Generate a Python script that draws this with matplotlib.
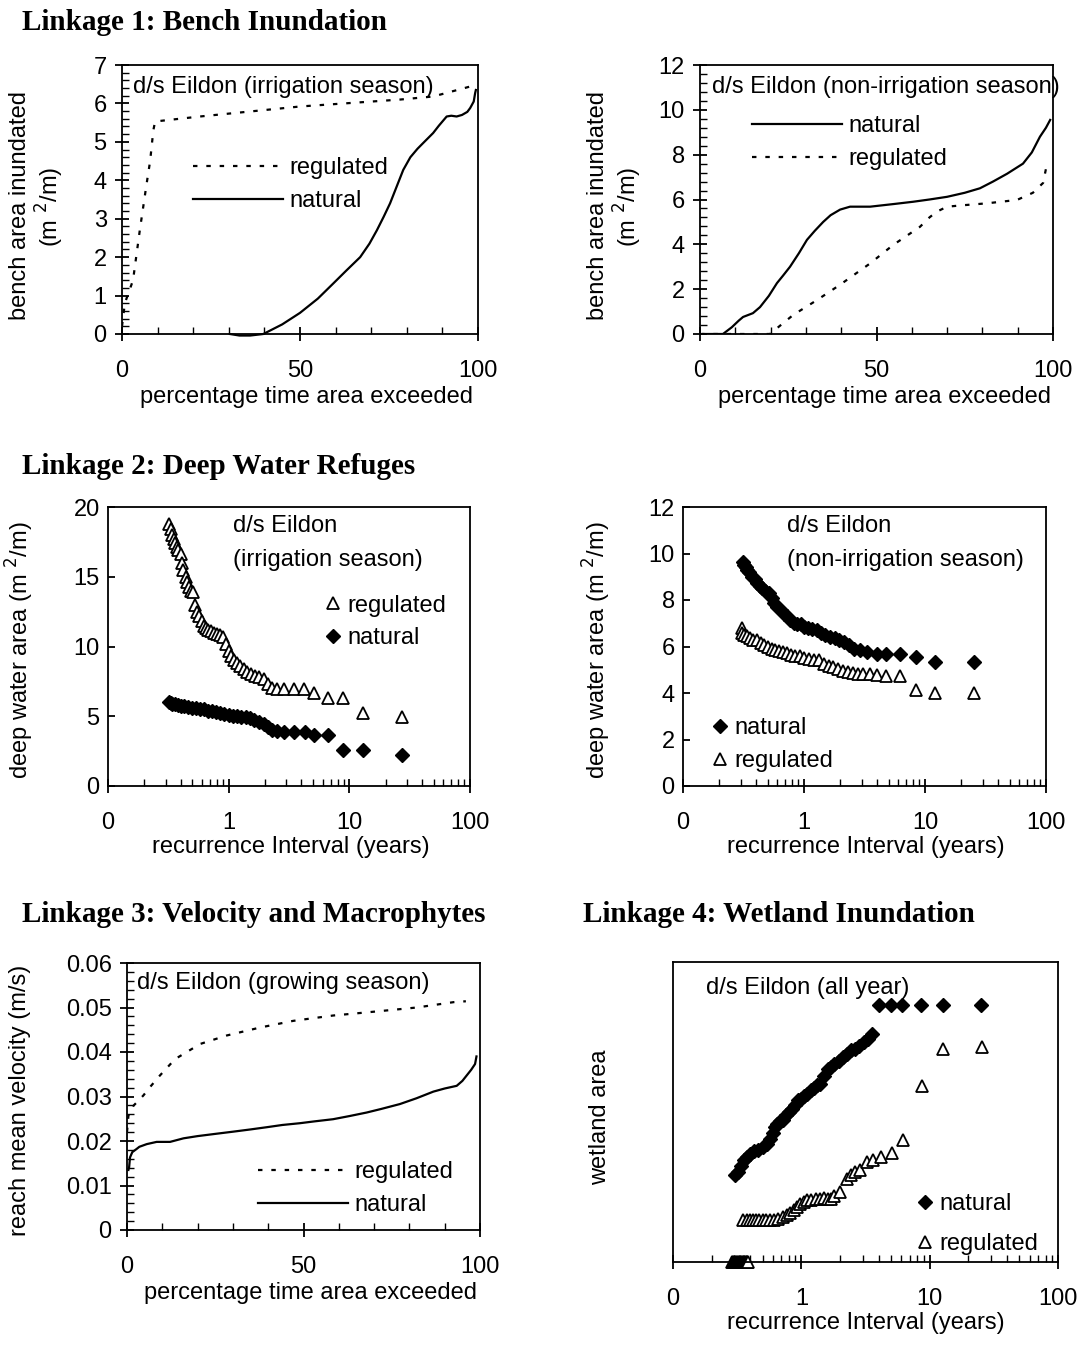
import matplotlib
matplotlib.use("Agg")
import matplotlib.pyplot as plt
from matplotlib.ticker import MultipleLocator, AutoMinorLocator, FixedLocator, FixedFormatter, LogLocator, NullFormatter, FuncFormatter

plt.rcParams['font.family'] = ['Liberation Sans', 'DejaVu Sans']

W, H = 1080, 1347
FS = 17

# *********************
# DATA
# *********************
# Linkage 1 - bench inundation, irrigation season (x = % time exceeded, y = m2/m)
l1_reg_x = [0, 0.8, 3.1, 5.0, 6.9, 7.9, 8.8, 9.3, 21.9, 50, 78, 87.4, 97.8, 99.2]
l1_reg_y = [0.2, 0.8, 1.4, 2.7, 3.9, 4.5, 5.3, 5.53, 5.66, 5.92, 6.1, 6.18, 6.44, 6.5]
l1_nat_x = [30.3, 33, 36, 39.7, 45, 50, 55, 59.4, 63, 66.9, 69.5, 71.6, 73.5, 75.3, 77, 79, 81,
            83, 84.6, 86, 87.4, 89, 91.2, 92.5, 94, 95.5, 97, 97.8, 98.8, 99.2, 99.4]
l1_nat_y = [0, -0.04, -0.04, 0, 0.25, 0.55, 0.92, 1.32, 1.65, 2.0, 2.35, 2.7, 3.05, 3.4, 3.8, 4.27, 4.6,
            4.82, 4.97, 5.1, 5.23, 5.42, 5.66, 5.68, 5.66, 5.7, 5.78, 5.88, 6.05, 6.27, 6.35]

# non-irrigation season
l1b_nat_x = [0.9, 6.5, 9, 11, 12.2, 15, 17, 19.5, 21.8, 23.5, 25.5, 28, 30.3, 32.5, 34.9, 37, 39.7,
             42.5, 48.2, 55, 60.4, 65, 70, 75, 79.3, 83, 87, 91.5, 94, 96.3, 98, 99.2]
l1b_nat_y = [0, 0, 0.3, 0.6, 0.76, 0.93, 1.2, 1.7, 2.27, 2.6, 3.0, 3.6, 4.2, 4.6, 5.0, 5.3, 5.55,
             5.68, 5.68, 5.8, 5.9, 6.0, 6.12, 6.3, 6.5, 6.8, 7.15, 7.6, 8.1, 8.8, 9.2, 9.55]
l1b_reg_x = [0, 19.8, 26.4, 33, 39.7, 48.2, 54.7, 62.3, 65, 67, 70, 75, 81.3, 89.8, 94.3, 97.2, 98.3]
l1b_reg_y = [0, 0, 0.85, 1.5, 2.2, 3.15, 3.97, 4.78, 5.2, 5.45, 5.68, 5.75, 5.83, 5.98, 6.3, 6.74, 7.6]

# Linkage 2 - deep water refuges, irrigation season (x = recurrence interval, years)
l2_reg_x = [0.32, 0.33, 0.34, 0.35, 0.36, 0.37, 0.38, 0.40, 0.41, 0.42, 0.44, 0.45, 0.47, 0.49,
            0.51, 0.53, 0.55, 0.57, 0.60, 0.62, 0.65, 0.68, 0.71, 0.75, 0.80, 0.85, 0.90, 0.95,
            1.0, 1.05, 1.1, 1.18, 1.25, 1.33, 1.42, 1.52, 1.65, 1.78, 1.95, 2.1, 2.3, 2.5,
            2.87, 3.48, 4.22, 5.1, 6.6, 8.8, 12.9, 27.3]
l2_reg_y = [18.8, 18.4, 18.0, 17.7, 17.4, 17.1, 16.9, 16.6, 16.0, 15.5, 15.0, 14.6, 14.3, 14.0,
            13.9, 13.0, 12.5, 12.2, 11.8, 11.5, 11.3, 11.2, 11.1, 11.0, 10.9, 10.8, 10.7, 10.2,
            9.7, 9.3, 9.0, 8.8, 8.6, 8.4, 8.2, 8.0, 7.9, 7.8, 7.7, 7.3, 7.0, 6.95,
            6.93, 6.93, 6.93, 6.64, 6.29, 6.29, 5.2, 4.97]
l2_nat_x = [0.32, 0.33, 0.34, 0.36, 0.38, 0.40, 0.43, 0.46, 0.50, 0.54, 0.58, 0.63, 0.68, 0.73,
            0.78, 0.85, 0.92, 1.0, 1.08, 1.17, 1.27, 1.38, 1.5, 1.63, 1.78, 1.95, 2.1, 2.3, 2.5,
            2.87, 3.48, 4.3, 5.1, 6.6, 8.8, 12.9, 27.3]
l2_nat_y = [6.05, 5.95, 5.9, 5.85, 5.8, 5.75, 5.72, 5.68, 5.62, 5.57, 5.55, 5.5, 5.4, 5.35,
            5.3, 5.2, 5.18, 5.1, 5.05, 5.0, 4.97, 4.95, 4.85, 4.75, 4.6, 4.45, 4.25, 4.05, 3.95,
            3.9, 3.9, 3.85, 3.66, 3.66, 2.58, 2.58, 2.22]

# non-irrigation season
l2b_nat_x = [0.315, 0.32, 0.33, 0.34, 0.35, 0.37, 0.39, 0.41, 0.43, 0.45, 0.48, 0.51, 0.54, 0.57,
             0.60, 0.64, 0.68, 0.72, 0.77, 0.82, 0.88, 0.94, 1.0, 1.08, 1.17, 1.27, 1.38, 1.5,
             1.65, 1.8, 1.95, 2.15, 2.35, 2.6, 2.9, 3.3, 3.98, 4.8, 6.2, 8.5, 12.1, 25.2]
l2b_nat_y = [9.65, 9.5, 9.4, 9.3, 9.2, 9.0, 8.9, 8.75, 8.6, 8.5, 8.4, 8.3, 8.1, 7.85,
             7.7, 7.55, 7.4, 7.3, 7.15, 7.0, 6.95, 6.95, 6.85, 6.8, 6.75, 6.7, 6.6, 6.5,
             6.4, 6.35, 6.3, 6.2, 6.05, 5.9, 5.85, 5.75, 5.68, 5.68, 5.68, 5.56, 5.35, 5.35]
l2b_reg_x = [0.306, 0.31, 0.32, 0.34, 0.36, 0.38, 0.41, 0.44, 0.47, 0.50, 0.54, 0.58, 0.62, 0.67,
             0.72, 0.78, 0.85, 0.92, 1.0, 1.1, 1.2, 1.33, 1.45, 1.6, 1.75, 1.9, 2.1, 2.3,
             2.55, 2.8, 3.1, 3.5, 3.98, 4.8, 6.2, 8.5, 12.1, 25.2]
l2b_reg_y = [6.78, 6.6, 6.5, 6.45, 6.35, 6.3, 6.28, 6.15, 6.05, 6.0, 5.9, 5.85, 5.8, 5.75,
             5.7, 5.65, 5.6, 5.6, 5.5, 5.45, 5.42, 5.4, 5.25, 5.15, 5.1, 5.05, 4.95, 4.9,
             4.85, 4.83, 4.8, 4.8, 4.78, 4.74, 4.74, 4.13, 3.99, 3.99]

# Linkage 3 - reach mean velocity, growing season
l3_reg_x = [0, 0.4, 1.8, 4.6, 6.5, 9.3, 13.6, 20.7, 28.2, 37.7, 47.1, 58.4, 67.9, 82.1, 92.5, 96]
l3_reg_y = [0.022, 0.0257, 0.0279, 0.0302, 0.0321, 0.0347, 0.0384, 0.0418, 0.0437, 0.0455,
            0.047, 0.0482, 0.0489, 0.050, 0.0512, 0.0514]
l3_nat_x = [0.4, 0.6, 0.85, 1.5, 2.7, 3.5, 5.6, 8.4, 12.2, 16, 20, 25, 30.1, 35, 39.6, 44, 49, 53,
            58.4, 63, 67.9, 72, 77.3, 82, 86.8, 90, 93.4, 95, 96.2, 97.5, 98.6, 99]
l3_nat_y = [0.0135, 0.0141, 0.0163, 0.0175, 0.0182, 0.0187, 0.0193, 0.0198, 0.0198, 0.0206, 0.0211,
            0.0216, 0.0221, 0.0226, 0.0231, 0.0236, 0.024, 0.0244, 0.0249, 0.0256, 0.0264, 0.0272,
            0.0283, 0.0296, 0.0311, 0.0318, 0.0324, 0.0335, 0.0347, 0.036, 0.0373, 0.039]

# Linkage 4 - wetland area (relative, unlabelled axis), all year
l4_nat_x = [0.305, 0.32, 0.34, 0.36, 0.38, 0.40, 0.43, 0.46, 0.50, 0.54, 0.57, 0.60, 0.62, 0.65,
            0.68, 0.72, 0.76, 0.80, 0.85, 0.90, 0.95, 1.0, 1.05, 1.11, 1.18, 1.25, 1.33, 1.41,
            1.5, 1.6, 1.69, 1.8, 1.95, 2.1, 2.25, 2.42, 2.6, 2.8, 3.06, 3.3, 3.55,
            4.02, 4.96, 6.12, 8.51, 12.6, 25.1]
l4_nat_y = [0.289, 0.30, 0.32, 0.34, 0.35, 0.36, 0.37, 0.375, 0.385, 0.395, 0.41, 0.43, 0.45, 0.46,
            0.47, 0.475, 0.49, 0.50, 0.51, 0.525, 0.54, 0.545, 0.555, 0.561, 0.575, 0.58, 0.59, 0.595,
            0.62, 0.645, 0.65, 0.66, 0.67, 0.685, 0.695, 0.706, 0.71, 0.72, 0.733, 0.745, 0.761,
            0.856, 0.856, 0.856, 0.856, 0.856, 0.856]
l4_reg_x = [0.29, 0.295, 0.30, 0.305, 0.31, 0.315, 0.32, 0.325, 0.33, 0.335, 0.34, 0.345, 0.35,
            0.355, 0.36, 0.365, 0.37, 0.375, 0.38, 0.385,
            0.354, 0.38, 0.40, 0.42, 0.44, 0.47, 0.50, 0.53, 0.57, 0.61, 0.66, 0.72, 0.77, 0.82,
            0.87, 0.93, 0.98, 1.04, 1.11, 1.2, 1.3, 1.4, 1.5, 1.6, 1.69, 1.8, 2.0, 2.27, 2.45,
            2.6, 2.89, 3.24, 3.6, 4.15, 5.12, 6.2, 8.7, 12.6, 25.5]
l4_reg_y = [0, 0, 0, 0, 0, 0, 0, 0, 0, 0, 0, 0, 0, 0, 0, 0, 0, 0, 0, 0,
            0.139, 0.139, 0.139, 0.139, 0.139, 0.139, 0.139, 0.139, 0.139, 0.139, 0.145, 0.15,
            0.156, 0.165, 0.175, 0.183, 0.195, 0.2, 0.206, 0.208, 0.21, 0.21, 0.212, 0.211, 0.211,
            0.22, 0.233, 0.278, 0.29, 0.3, 0.306, 0.333, 0.34, 0.35, 0.363, 0.408, 0.586, 0.711, 0.717]

log_ticks = [0.1, 1, 10, 100]
log_labels = ['0', '1', '10', '100']


# *********************
# HELPERS
# *********************
def rect(l, t, r, b):
    return [l / W, 1 - b / H, (r - l) / W, (b - t) / H]


def ftext(x, y, s, **kw):
    fig.text(x / W, 1 - y / H, s, fontsize=kw.pop('fontsize', FS), va=kw.pop('va', 'center'), **kw)


def style_axes(ax):
    for sp in ax.spines.values():
        sp.set_linewidth(1.3)
        sp.set_color('black')
    ax.tick_params(which='major', direction='inout', length=10, width=1.3, labelsize=FS, pad=6)
    ax.tick_params(axis='x', which='major', pad=14)
    ax.tick_params(which='minor', direction='in', length=5, width=1.0)


def pct_axes(ax, ymax, ymajor):
    style_axes(ax)
    ax.set_xlim(0, 100)
    ax.set_ylim(0, ymax)
    ax.xaxis.set_major_locator(FixedLocator([0, 50, 100]))
    ax.xaxis.set_minor_locator(MultipleLocator(10))
    ax.yaxis.set_major_locator(MultipleLocator(ymajor))
    ax.yaxis.set_minor_locator(AutoMinorLocator(5))


def log_axes(ax, ymax, ymajor):
    style_axes(ax)
    ax.set_xscale('log')
    ax.set_xlim(0.1, 100)
    ax.set_ylim(0, ymax)
    ax.xaxis.set_major_locator(FixedLocator(log_ticks))
    ax.xaxis.set_major_formatter(FixedFormatter(log_labels))
    ax.xaxis.set_minor_locator(LogLocator(base=10, subs=range(2, 10)))
    ax.xaxis.set_minor_formatter(NullFormatter())
    if ymajor:
        ax.yaxis.set_major_locator(MultipleLocator(ymajor))
        ax.tick_params(axis='y', which='major', direction='in', length=5)


def line_legend(ax, handles, labels, x, y, spacing=0.45):
    ax.legend(handles, labels, loc='center left', bbox_to_anchor=(x / W, 1 - y / H),
              bbox_transform=fig.transFigure, frameon=False, fontsize=FS,
              handlelength=3.8, handletextpad=0.3, labelspacing=spacing,
              borderpad=0, borderaxespad=0)


def mark_legend(ax, handles, labels, x, y, spacing=0.45):
    ax.legend(handles, labels, loc='center left', bbox_to_anchor=(x / W, 1 - y / H),
              bbox_transform=fig.transFigure, frameon=False, fontsize=FS,
              handlelength=0.6, handletextpad=0.3, labelspacing=spacing,
              borderpad=0, borderaxespad=0)


solid = dict(color='black', lw=1.6)
dotted = dict(color='black', lw=1.6, dashes=(2, 4))
diam = dict(marker='D', ls='none', ms=7, mfc='black', mec='black')
tri = dict(marker='^', ls='none', ms=8, mfc='white', mec='black', mew=1.3)

fig = plt.figure(figsize=(W / 100, H / 100), dpi=100)

# *********************
# LINKAGE 1
# *********************
ftext(22, 22, 'Linkage 1: Bench Inundation', family='Liberation Serif', weight='bold', fontsize=21)

ax1 = fig.add_axes(rect(122, 65, 478, 334))
pct_axes(ax1, 7, 1)
r1, = ax1.plot(l1_reg_x, l1_reg_y, **dotted)
n1, = ax1.plot(l1_nat_x, l1_nat_y, clip_on=False, **solid)
line_legend(ax1, [r1, n1], ['regulated', 'natural'], 193, 184.5)
ftext(133, 87, 'd/s Eildon (irrigation season)')
ftext(20, 205, 'bench area inundated', rotation=90, ha='center')
ftext(50, 207, '(m $^{2}$/m)', rotation=90, ha='center')
ftext(306, 397, 'percentage time area exceeded', ha='center')

ax2 = fig.add_axes(rect(700, 65, 1053, 334))
pct_axes(ax2, 12, 2)
n2, = ax2.plot(l1b_nat_x, l1b_nat_y, **solid)
r2, = ax2.plot(l1b_reg_x, l1b_reg_y, **dotted)
line_legend(ax2, [n2, r2], ['natural', 'regulated'], 752, 142.5)
ftext(712, 87, 'd/s Eildon (non-irrigation season)')
ftext(598, 205, 'bench area inundated', rotation=90, ha='center')
ftext(628, 207, '(m $^{2}$/m)', rotation=90, ha='center')
ftext(884, 397, 'percentage time area exceeded', ha='center')

# *********************
# LINKAGE 2
# *********************
ftext(22, 467, 'Linkage 2: Deep Water Refuges', family='Liberation Serif', weight='bold', fontsize=21)

ax3 = fig.add_axes(rect(108, 507, 470, 786))
log_axes(ax3, 20, 5)
r3, = ax3.plot(l2_reg_x, l2_reg_y, **tri)
n3, = ax3.plot(l2_nat_x, l2_nat_y, **diam)
mark_legend(ax3, [r3, n3], ['regulated', 'natural'], 326, 622)
ftext(233, 526, 'd/s Eildon')
ftext(233, 560, '(irrigation season)')
ftext(20, 650, 'deep water area (m $^{2}$/m)', rotation=90, ha='center')
ftext(291, 847, 'recurrence Interval (years)', ha='center')

ax4 = fig.add_axes(rect(683, 507, 1046, 786))
log_axes(ax4, 12, 2)
n4, = ax4.plot(l2b_nat_x, l2b_nat_y, **diam)
r4, = ax4.plot(l2b_reg_x, l2b_reg_y, **tri)
mark_legend(ax4, [n4, r4], ['natural', 'regulated'], 713, 744.5)
ftext(787, 526, 'd/s Eildon')
ftext(787, 560, '(non-irrigation season)')
ftext(597, 650, 'deep water area (m $^{2}$/m)', rotation=90, ha='center')
ftext(866, 847, 'recurrence Interval (years)', ha='center')

# *********************
# LINKAGE 3 / 4
# *********************
ftext(22, 915, 'Linkage 3: Velocity and Macrophytes', family='Liberation Serif', weight='bold', fontsize=21)
ftext(583, 915, 'Linkage 4: Wetland Inundation', family='Liberation Serif', weight='bold', fontsize=21)

ax5 = fig.add_axes(rect(127, 963, 480, 1230))
pct_axes(ax5, 0.06, 0.01)
ax5.yaxis.set_major_formatter(FuncFormatter(lambda v, p: '0' if v == 0 else f'{v:.2f}'))
r5, = ax5.plot(l3_reg_x, l3_reg_y, **dotted)
n5, = ax5.plot(l3_nat_x, l3_nat_y, **solid)
line_legend(ax5, [r5, n5], ['regulated', 'natural'], 258, 1188.5)
ftext(137, 983, 'd/s Eildon (growing season)')
ftext(20, 1100, 'reach mean velocity (m/s)', rotation=90, ha='center')
ftext(311, 1293, 'percentage time area exceeded', ha='center')

ax6 = fig.add_axes(rect(673, 962, 1058, 1262))
log_axes(ax6, 1, None)
ax6.set_yticks([])
n6, = ax6.plot(l4_nat_x, l4_nat_y, **diam)
r6, = ax6.plot(l4_reg_x, l4_reg_y, clip_on=False, **tri)
mark_legend(ax6, [n6, r6], ['natural', 'regulated'], 918, 1224, spacing=0.75)
ftext(706, 988, 'd/s Eildon (all year)')
ftext(600, 1117, 'wetland area', rotation=90, ha='center')
ftext(866, 1323, 'recurrence Interval (years)', ha='center')

fig.savefig('out.png', dpi=100)
